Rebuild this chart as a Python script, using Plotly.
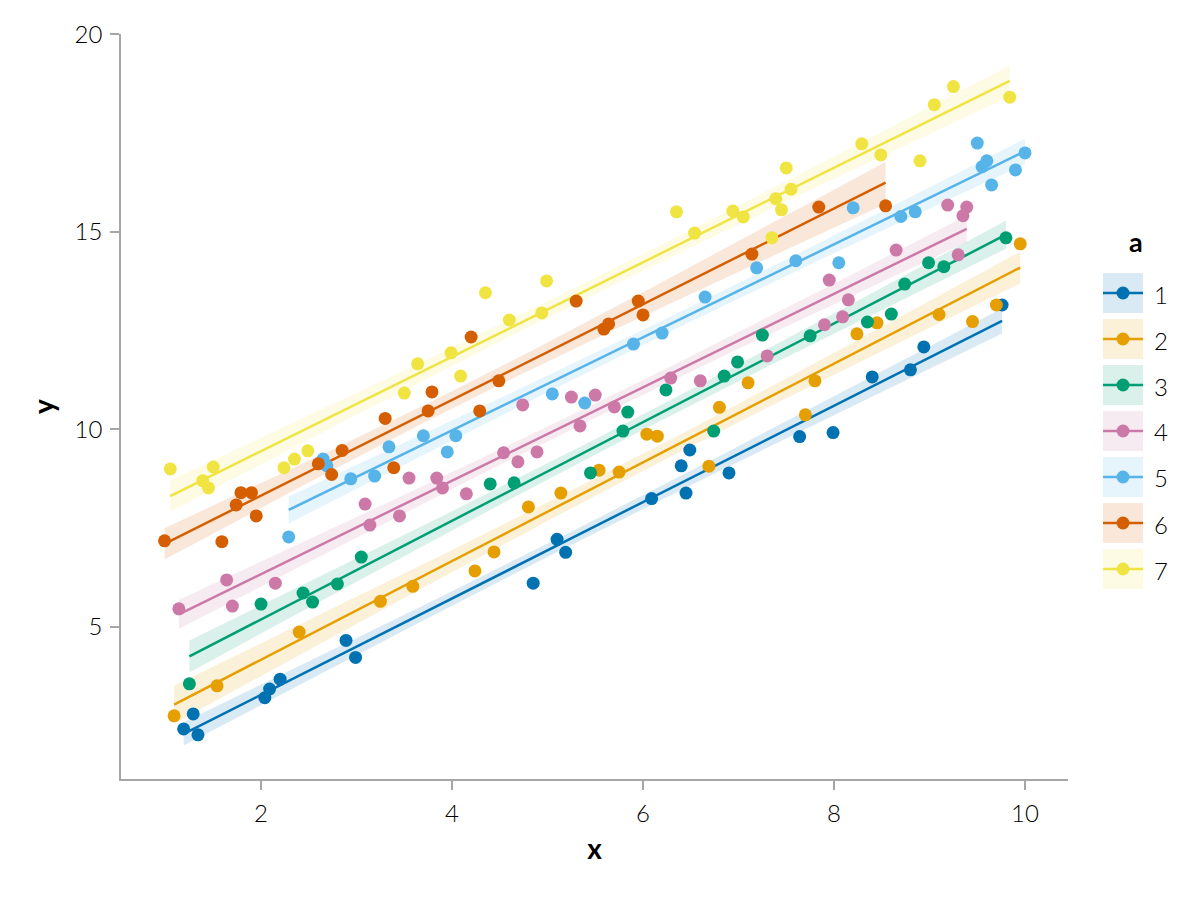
import numpy as np
import plotly.graph_objects as go

# ---------------- data ----------------
groups = ["1", "2", "3", "4", "5", "6", "7"]
colors = ["#0072B2", "#E69F00", "#009E73", "#CC79A7", "#56B4E9", "#D55E00", "#F0E442"]

x1 = [1.19, 1.29, 1.34, 2.04, 2.09, 2.20, 2.89, 2.99, 4.85, 5.10, 5.19, 6.09, 6.40, 6.45, 6.49, 6.90, 7.64, 7.99, 8.40, 8.80, 8.94, 9.76]
y1 = [2.42, 2.80, 2.27, 3.21, 3.43, 3.68, 4.66, 4.23, 6.11, 7.22, 6.89, 8.25, 9.08, 8.39, 9.48, 8.90, 9.82, 9.92, 11.33, 11.51, 12.09, 13.15]

x2 = [1.09, 1.54, 2.40, 3.25, 3.59, 4.24, 4.44, 4.80, 5.14, 5.54, 5.75, 6.04, 6.15, 6.69, 6.80, 7.10, 7.70, 7.80, 8.24, 8.45, 9.10, 9.45, 9.70, 9.95]
y2 = [2.75, 3.51, 4.87, 5.65, 6.03, 6.42, 6.90, 8.04, 8.39, 8.97, 8.92, 9.88, 9.83, 9.07, 10.56, 11.18, 10.37, 11.23, 12.42, 12.70, 12.91, 12.73, 13.15, 14.70]

x3 = [1.25, 2.00, 2.44, 2.54, 2.80, 3.05, 4.40, 4.65, 5.45, 5.79, 5.84, 6.24, 6.74, 6.85, 6.99, 7.25, 7.75, 8.35, 8.60, 8.74, 8.99, 9.15, 9.80]
y3 = [3.56, 5.58, 5.86, 5.63, 6.09, 6.77, 8.62, 8.65, 8.90, 9.96, 10.44, 11.00, 9.96, 11.35, 11.71, 12.39, 12.37, 12.72, 12.92, 13.68, 14.22, 14.12, 14.85]

x4 = [1.14, 1.64, 1.70, 2.15, 3.09, 3.14, 3.45, 3.55, 3.84, 3.90, 4.15, 4.54, 4.69, 4.89, 4.74, 5.25, 5.34, 5.50, 5.70, 6.29, 6.60, 7.30, 7.90, 8.09, 8.15, 7.95, 8.65, 9.30, 9.19, 9.35, 9.39]
y4 = [5.46, 6.19, 5.53, 6.11, 8.11, 7.58, 7.81, 8.77, 8.77, 8.52, 8.37, 9.41, 9.18, 9.43, 10.62, 10.82, 10.09, 10.87, 10.57, 11.30, 11.23, 11.86, 12.65, 12.85, 13.28, 13.78, 14.54, 14.42, 15.68, 15.41, 15.63]

x5 = [2.29, 2.65, 2.69, 2.94, 3.19, 3.34, 3.70, 3.95, 4.04, 5.05, 5.39, 5.90, 6.20, 6.65, 7.19, 7.60, 8.05, 8.20, 8.70, 8.85, 9.50, 9.55, 9.60, 9.65, 9.90, 10.00]
y5 = [7.28, 9.25, 9.08, 8.75, 8.82, 9.56, 9.84, 9.43, 9.84, 10.90, 10.67, 12.16, 12.44, 13.35, 14.09, 14.27, 14.22, 15.61, 15.39, 15.51, 17.25, 16.65, 16.80, 16.19, 16.57, 17.00]

x6 = [0.99, 1.59, 1.74, 1.79, 1.90, 1.95, 2.60, 2.74, 2.85, 3.30, 3.39, 3.75, 3.79, 4.20, 4.29, 4.49, 5.30, 5.59, 5.64, 5.95, 6.00, 7.14, 7.84, 8.54]
y6 = [7.18, 7.16, 8.09, 8.40, 8.40, 7.81, 9.13, 8.86, 9.47, 10.28, 9.03, 10.47, 10.95, 12.34, 10.47, 11.23, 13.25, 12.54, 12.67, 13.25, 12.90, 14.44, 15.63, 15.66]

x7 = [1.05, 1.39, 1.45, 1.50, 2.24, 2.35, 2.49, 3.50, 3.64, 3.99, 4.09, 4.35, 4.60, 4.94, 4.99, 6.35, 6.54, 6.94, 7.05, 7.35, 7.39, 7.45, 7.50, 7.55, 8.29, 8.49, 8.90, 9.05, 9.25, 9.84]
y7 = [9.00, 8.70, 8.52, 9.05, 9.03, 9.25, 9.46, 10.92, 11.66, 11.94, 11.35, 13.46, 12.77, 12.95, 13.76, 15.51, 14.97, 15.53, 15.38, 14.85, 15.84, 15.56, 16.62, 16.08, 17.23, 16.95, 16.80, 18.22, 18.68, 18.41]

xs = [x1, x2, x3, x4, x5, x6, x7]
ys = [y1, y2, y3, y4, y5, y6, y7]

x_ticks = [2, 4, 6, 8, 10]
y_ticks = [5, 10, 15, 20]

FONT = "Lato"


def rgba(hexc, a):
    h = hexc.lstrip("#")
    r, g, b = int(h[0:2], 16), int(h[2:4], 16), int(h[4:6], 16)
    return f"rgba({r},{g},{b},{a})"


def t_quant(df, z=1.959964):
    return z + (z**3 + z) / (4 * df) + (5 * z**5 + 16 * z**3 + 3 * z) / (96 * df**2)


def linfit(x, y, npts=100):
    x = np.asarray(x, float)
    y = np.asarray(y, float)
    n = len(x)
    b, a = np.polyfit(x, y, 1)
    resid = y - (a + b * x)
    s = np.sqrt(np.sum(resid**2) / (n - 2))
    xm = x.mean()
    sxx = np.sum((x - xm) ** 2)
    xg = np.linspace(x.min(), x.max(), npts)
    yg = a + b * xg
    se = s * np.sqrt(1.0 / n + (xg - xm) ** 2 / sxx)
    t = t_quant(n - 2)
    return xg, yg, yg - t * se, yg + t * se


fig = go.Figure()

fits = [linfit(x, y) for x, y in zip(xs, ys)]

# bands
for g, c, (xg, yg, lo, hi) in zip(groups, colors, fits):
    fig.add_trace(go.Scatter(
        x=np.concatenate([xg, xg[::-1]]), y=np.concatenate([hi, lo[::-1]]),
        fill="toself", fillcolor=rgba(c, 0.15), line=dict(width=0),
        mode="lines", hoverinfo="skip", showlegend=False))

# lines
for g, c, (xg, yg, lo, hi) in zip(groups, colors, fits):
    fig.add_trace(go.Scatter(x=xg, y=yg, mode="lines",
                             line=dict(color=c, width=2.5), showlegend=False))

# points
for g, c, x, y in zip(groups, colors, xs, ys):
    fig.add_trace(go.Scatter(x=x, y=y, mode="markers", name=g,
                             marker=dict(color=c, size=13, line=dict(width=0)),
                             showlegend=False))

# ---------------- layout ----------------
OFF = 8  # page body margin
W, H = 1200 - OFF, 900 - OFF
Lp, Rp, Tp, Bp = 121, 1068, 34, 779   # plot area in page pixels
L, R, T, B = Lp - OFF, Rp - OFF, Tp - OFF, Bp - OFF
pw, ph = R - L, B - T


def px_to_paper(px, py):
    return (px - OFF - L) / pw, (B - (py - OFF)) / ph


shapes = []
annotations = []
# manual legend
tx, ty = px_to_paper(1136, 242)
annotations.append(dict(x=tx, y=ty, xref="paper", yref="paper", text="<b>a</b>",
                        showarrow=False, font=dict(family=FONT, size=27, color="black"),
                        xanchor="center", yanchor="middle"))
for i, (g, c) in enumerate(zip(groups, colors)):
    top = 273 + 46 * i
    x0, y0 = px_to_paper(1103, top + 40)
    x1p, y1p = px_to_paper(1143, top)
    shapes.append(dict(type="rect", xref="paper", yref="paper", x0=x0, y0=y0, x1=x1p, y1=y1p,
                       fillcolor=rgba(c, 0.15), line=dict(width=0), layer="above"))
    lx0, ly = px_to_paper(1103, top + 20)
    lx1, _ = px_to_paper(1143, top + 20)
    shapes.append(dict(type="line", xref="paper", yref="paper", x0=lx0, x1=lx1, y0=ly, y1=ly,
                       line=dict(color=c, width=2.5), layer="above"))
    cx0, cy0 = px_to_paper(1116.5, top + 26.5)
    cx1, cy1 = px_to_paper(1129.5, top + 13.5)
    shapes.append(dict(type="circle", xref="paper", yref="paper", x0=cx0, x1=cx1, y0=cy0, y1=cy1,
                       fillcolor=c, line=dict(width=0), layer="above"))
    ax, ay = px_to_paper(1152, top + 21)
    annotations.append(dict(x=ax, y=ay, xref="paper", yref="paper", text=g, showarrow=False,
                            font=dict(family=FONT, size=24, color="black", weight=300),
                            xanchor="left", yanchor="middle"))

axis_common = dict(showgrid=False, zeroline=False, showline=True, linecolor="#a6a6a6",
                   linewidth=1.5, ticks="outside", ticklen=9, tickcolor="#a6a6a6", tickwidth=1.5,
                   tickfont=dict(family=FONT, size=24, color="black", weight=300), mirror=False,
                   ticklabelstandoff=3)

fig.update_layout(
    width=W, height=H,
    margin=dict(l=L, r=W - R, t=T, b=H - B, pad=0),
    plot_bgcolor="white", paper_bgcolor="white",
    showlegend=False,
    xaxis=dict(range=[0.534, 10.45], tickvals=x_ticks,
               title=dict(text="<b>x</b>", font=dict(family=FONT, size=28, color="black"), standoff=14),
               **axis_common),
    yaxis=dict(range=[1.152, 20.01], tickvals=y_ticks,
               title=dict(text="<b>y</b>", font=dict(family=FONT, size=28, color="black"), standoff=12),
               **axis_common),
    shapes=shapes, annotations=annotations,
)

fig.write_html("out.html")
